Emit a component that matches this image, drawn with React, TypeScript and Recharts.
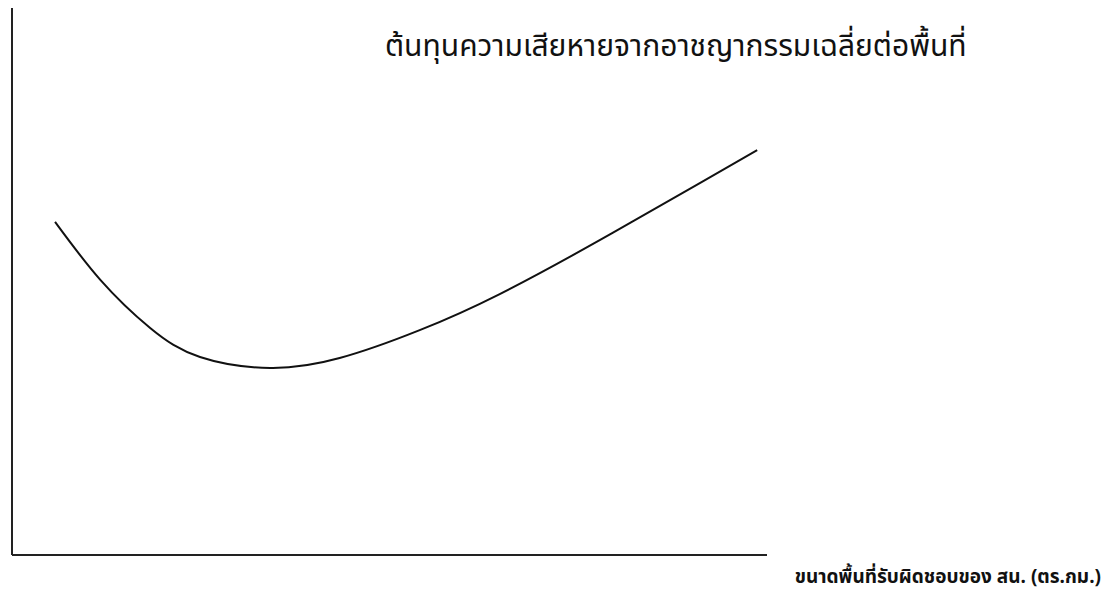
import React from 'react';
import { LineChart, Line, XAxis, YAxis } from 'recharts';

// Curve (x = area size, y = average crime cost per area)
const areaSize = [5.7, 11.7, 18.3, 24.9, 34.2, 43.4, 54.0, 64.6, 77.9, 91.1, 98.7];
const crimeCost = [60.9, 50.3, 41.5, 36.2, 34.2, 36.0, 41.1, 47.7, 57.6, 68.0, 74.0];

const curveTitle = 'ต้นทุนความเสียหายจากอาชญากรรมเฉลี่ยต่อพื้นที่';
const xAxisTitle = 'ขนาดพื้นที่รับผิดชอบของ สน. (ตร.กม.)';

const data = areaSize.map((x, i) => ({ x, y: crimeCost[i] }));

const FONT = '"Noto Sans Thai", "Tahoma", "DejaVu Sans", sans-serif';

export default function App() {
  return (
    <div
      style={{
        position: 'absolute',
        left: 0,
        top: 0,
        width: 1115,
        height: 592,
        background: '#ffffff',
        fontFamily: FONT,
      }}
    >
      <LineChart
        width={1115}
        height={592}
        data={data}
        margin={{ top: 8, left: 8, right: 348, bottom: 33 }}
      >
        <XAxis
          type="number"
          dataKey="x"
          domain={[0, 100]}
          tick={false}
          tickLine={false}
          height={4}
          axisLine={{ stroke: '#222', strokeWidth: 2 }}
        />
        <YAxis
          type="number"
          domain={[0, 100]}
          tick={false}
          tickLine={false}
          width={4}
          axisLine={{ stroke: '#222', strokeWidth: 2 }}
        />
        <Line
          type="natural"
          dataKey="y"
          stroke="#111"
          strokeWidth={2}
          dot={false}
          isAnimationActive={false}
        />
      </LineChart>
      <div
        style={{
          position: 'absolute',
          left: 385,
          top: 24,
          fontSize: 30,
          color: '#111',
          whiteSpace: 'nowrap',
        }}
      >
        {curveTitle}
      </div>
      <div
        style={{
          position: 'absolute',
          right: 14,
          top: 563,
          fontSize: 19,
          fontWeight: 'bold',
          color: '#111',
          whiteSpace: 'nowrap',
        }}
      >
        {xAxisTitle}
      </div>
    </div>
  );
}
